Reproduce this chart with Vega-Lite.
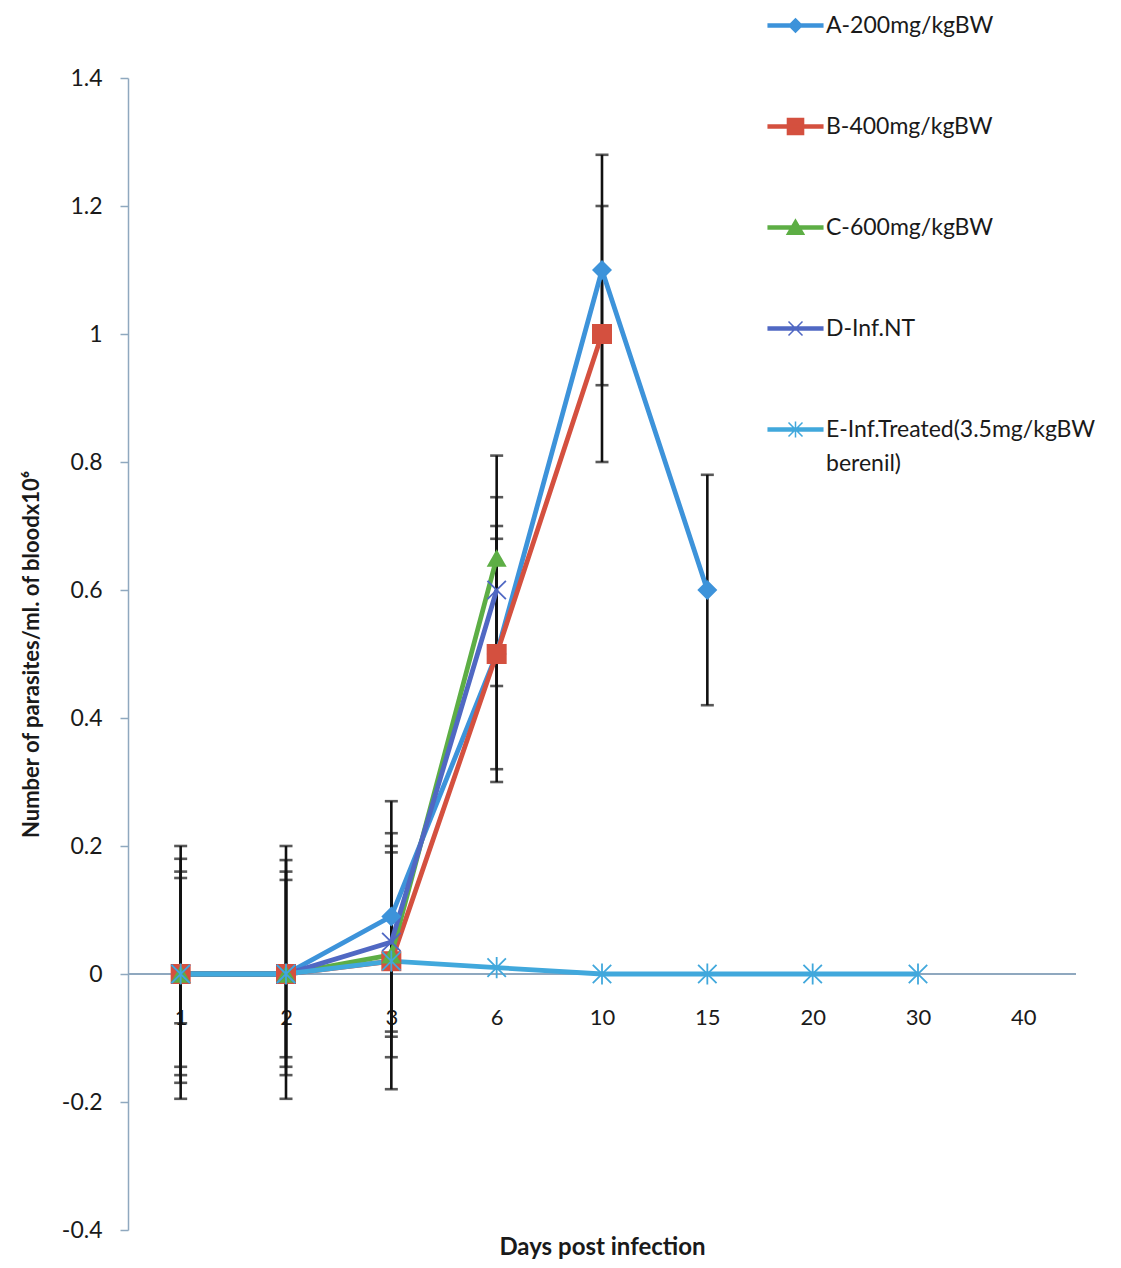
{
  "$schema": "https://vega.github.io/schema/vega-lite/v6.json",
  "width": 948,
  "height": 1152,
  "autosize": {"type": "none"},
  "padding": {"left": 128, "top": 78, "right": 45, "bottom": 38},
  "background": "white",
  "config": {
    "view": {"stroke": null},
    "font": "Lato",
    "axis": {"grid": false}
  },
  "data": {
    "values": [
      {"series": "A-200mg/kgBW", "day": 1, "value": 0, "lo": -0.17, "hi": 0.18},
      {"series": "A-200mg/kgBW", "day": 2, "value": 0, "lo": -0.158, "hi": 0.178},
      {"series": "A-200mg/kgBW", "day": 3, "value": 0.09, "lo": -0.09, "hi": 0.27},
      {"series": "A-200mg/kgBW", "day": 6, "value": 0.5, "lo": 0.32, "hi": 0.68},
      {"series": "A-200mg/kgBW", "day": 10, "value": 1.1, "lo": 0.92, "hi": 1.28},
      {"series": "A-200mg/kgBW", "day": 15, "value": 0.6, "lo": 0.42, "hi": 0.78},
      {"series": "B-400mg/kgBW", "day": 1, "value": 0, "lo": -0.195, "hi": 0.2},
      {"series": "B-400mg/kgBW", "day": 2, "value": 0, "lo": -0.195, "hi": 0.2},
      {"series": "B-400mg/kgBW", "day": 3, "value": 0.02, "lo": -0.18, "hi": 0.22},
      {"series": "B-400mg/kgBW", "day": 6, "value": 0.5, "lo": 0.3, "hi": 0.7},
      {"series": "B-400mg/kgBW", "day": 10, "value": 1.0, "lo": 0.8, "hi": 1.2},
      {"series": "C-600mg/kgBW", "day": 1, "value": 0, "lo": -0.158, "hi": 0.16},
      {"series": "C-600mg/kgBW", "day": 2, "value": 0, "lo": -0.145, "hi": 0.16},
      {"series": "C-600mg/kgBW", "day": 3, "value": 0.03, "lo": -0.13, "hi": 0.19},
      {"series": "C-600mg/kgBW", "day": 6, "value": 0.65, "lo": 0.49, "hi": 0.81},
      {"series": "D-Inf.NT", "day": 1, "value": 0, "lo": -0.145, "hi": 0.15},
      {"series": "D-Inf.NT", "day": 2, "value": 0, "lo": -0.13, "hi": 0.147},
      {"series": "D-Inf.NT", "day": 3, "value": 0.05, "lo": -0.098, "hi": 0.2},
      {"series": "D-Inf.NT", "day": 6, "value": 0.6, "lo": 0.45, "hi": 0.745},
      {"series": "E-Inf.Treated(3.5mg/kgBW berenil)", "day": 1, "value": 0, "lo": -0.077, "hi": 0},
      {"series": "E-Inf.Treated(3.5mg/kgBW berenil)", "day": 2, "value": 0, "lo": null, "hi": null},
      {"series": "E-Inf.Treated(3.5mg/kgBW berenil)", "day": 3, "value": 0.02, "lo": null, "hi": null},
      {"series": "E-Inf.Treated(3.5mg/kgBW berenil)", "day": 6, "value": 0.01, "lo": null, "hi": null},
      {"series": "E-Inf.Treated(3.5mg/kgBW berenil)", "day": 10, "value": 0, "lo": null, "hi": null},
      {"series": "E-Inf.Treated(3.5mg/kgBW berenil)", "day": 15, "value": 0, "lo": null, "hi": null},
      {"series": "E-Inf.Treated(3.5mg/kgBW berenil)", "day": 20, "value": 0, "lo": null, "hi": null},
      {"series": "E-Inf.Treated(3.5mg/kgBW berenil)", "day": 30, "value": 0, "lo": null, "hi": null}
    ]
  },
  "encoding": {
    "x": {
      "field": "day",
      "type": "ordinal",
      "scale": {"type": "point", "domain": [1, 2, 3, 6, 10, 15, 20, 30, 40], "padding": 0.5},
      "axis": {
        "title": "Days post infection",
        "domain": false,
        "ticks": false,
        "tickSize": 0,
        "labelAngle": 0,
        "offset": -225,
        "labelPadding": 2,
        "labelFontSize": 22,
        "labelColor": "#1a1a1a",
        "titleFontSize": 24,
        "titleFontWeight": "bold",
        "titleColor": "#1a1a1a",
        "titlePadding": 207
      }
    },
    "y": {
      "field": "value",
      "type": "quantitative",
      "scale": {"domain": [-0.4, 1.4], "nice": false, "zero": false},
      "axis": {
        "title": "Number of parasites/ml. of bloodx10⁶",
        "values": [-0.4, -0.2, 0, 0.2, 0.4, 0.6, 0.8, 1, 1.2, 1.4],
        "labelExpr": "replace(format(datum.value, '.1~f'), '\u2212', '-')",
        "domainColor": "#8FA8BF",
        "domainWidth": 1.5,
        "tickColor": "#8FA8BF",
        "tickWidth": 1.5,
        "tickSize": 8,
        "labelPadding": 18,
        "labelFontSize": 23,
        "labelColor": "#1a1a1a",
        "titleFontSize": 22,
        "titleFontWeight": "bold",
        "titleColor": "#1a1a1a",
        "titlePadding": 18
      }
    }
  },
  "layer": [
    {
      "mark": {"type": "point", "filled": true, "opacity": 0},
      "encoding": {
        "color": {
          "field": "series",
          "type": "nominal",
          "scale": {
            "domain": ["A-200mg/kgBW", "B-400mg/kgBW", "C-600mg/kgBW", "D-Inf.NT", "E-Inf.Treated(3.5mg/kgBW berenil)"],
            "range": ["#3D93DA", "#D4503F", "#5DAE45", "#5068C3", "#41A8DC"]
          },
          "legend": {
            "title": null,
            "orient": "none",
            "legendX": 656,
            "legendY": -64,
            "direction": "vertical",
            "padding": 0,
            "rowPadding": 77,
            "symbolSize": 196,
            "symbolStrokeWidth": 1.5,
            "labelFontSize": 23,
            "labelColor": "#1a1a1a",
            "labelOffset": 19,
            "labelLimit": 500,
            "labelExpr": "datum.label == 'E-Inf.Treated(3.5mg/kgBW berenil)' ? ['E-Inf.Treated(3.5mg/kgBW', 'berenil)'] : datum.label",
            "encode": {
              "symbols": {"update": {"stroke": {"scale": "color", "field": "value"}, "strokeWidth": {"value": 1.5}, "opacity": {"value": 1}}},
              "labels": {"update": {"lineHeight": {"value": 34}}}
            }
          }
        },
        "shape": {
          "field": "series",
          "type": "nominal",
          "scale": {
            "domain": ["A-200mg/kgBW", "B-400mg/kgBW", "C-600mg/kgBW", "D-Inf.NT", "E-Inf.Treated(3.5mg/kgBW berenil)"],
            "range": [
              "M-3.9,-0.2H3.9V0.2H-3.9Z M-0.95,0L0,-0.95L0.95,0L0,0.95Z",
              "M-3.9,-0.2H3.9V0.2H-3.9Z M-1.15,-1.15H1.15V1.15H-1.15Z",
              "M-3.9,-0.2H3.9V0.2H-3.9Z M0,-1.1L1.2,0.95L-1.2,0.95Z",
              "M-3.9,-0.2H3.9V0.2H-3.9Z M-1,-1L1,1M-1,1L1,-1",
              "M-3.9,-0.2H3.9V0.2H-3.9Z M-1,-1L1,1M-1,1L1,-1M0,-1.15L0,1.15"
            ]
          },
          "legend": {
            "title": null,
            "orient": "none",
            "legendX": 656,
            "legendY": -64,
            "direction": "vertical",
            "padding": 0,
            "rowPadding": 77,
            "symbolSize": 196,
            "symbolStrokeWidth": 1.5,
            "labelFontSize": 23,
            "labelColor": "#1a1a1a",
            "labelOffset": 19,
            "labelLimit": 500,
            "labelExpr": "datum.label == 'E-Inf.Treated(3.5mg/kgBW berenil)' ? ['E-Inf.Treated(3.5mg/kgBW', 'berenil)'] : datum.label"
          }
        }
      }
    },
    {
      "mark": {"type": "rule", "color": "#8FA8BF", "strokeWidth": 1.5},
      "encoding": {
        "x": null,
        "y": {"datum": 0, "type": "quantitative"}
      }
    },
    {
      "transform": [{"filter": "datum.lo != null"}],
      "mark": {"type": "errorbar", "color": "#111111", "thickness": 2.6, "ticks": {"size": 13, "color": "#111111"}, "rule": {"color": "#111111"}},
      "encoding": {
        "y": {"field": "lo", "type": "quantitative"},
        "y2": {"field": "hi"}
      }
    },
    {
      "mark": {"type": "line", "strokeWidth": 4.8},
      "encoding": {"color": {"field": "series", "type": "nominal"}}
    },
    {
      "transform": [{"filter": {"field": "series", "equal": "A-200mg/kgBW"}}],
      "mark": {"type": "point", "shape": "diamond", "filled": true, "size": 400, "opacity": 1},
      "encoding": {"color": {"field": "series", "type": "nominal"}}
    },
    {
      "transform": [{"filter": {"field": "series", "equal": "B-400mg/kgBW"}}],
      "mark": {"type": "point", "shape": "square", "filled": true, "size": 400, "opacity": 1},
      "encoding": {"color": {"field": "series", "type": "nominal"}}
    },
    {
      "transform": [{"filter": {"field": "series", "equal": "C-600mg/kgBW"}}],
      "mark": {"type": "point", "shape": "triangle-up", "filled": true, "size": 400, "opacity": 1},
      "encoding": {"color": {"field": "series", "type": "nominal"}}
    },
    {
      "transform": [{"filter": {"field": "series", "equal": "D-Inf.NT"}}],
      "mark": {"type": "point", "shape": "M-1,-1L1,1M-1,1L1,-1", "filled": false, "strokeWidth": 1.8, "size": 340, "opacity": 1},
      "encoding": {"color": {"field": "series", "type": "nominal"}}
    },
    {
      "transform": [{"filter": {"field": "series", "equal": "E-Inf.Treated(3.5mg/kgBW berenil)"}}],
      "mark": {"type": "point", "shape": "M-1,-1L1,1M-1,1L1,-1M0,-1.15L0,1.15", "filled": false, "strokeWidth": 1.8, "size": 340, "opacity": 1},
      "encoding": {"color": {"field": "series", "type": "nominal"}}
    }
  ]
}
